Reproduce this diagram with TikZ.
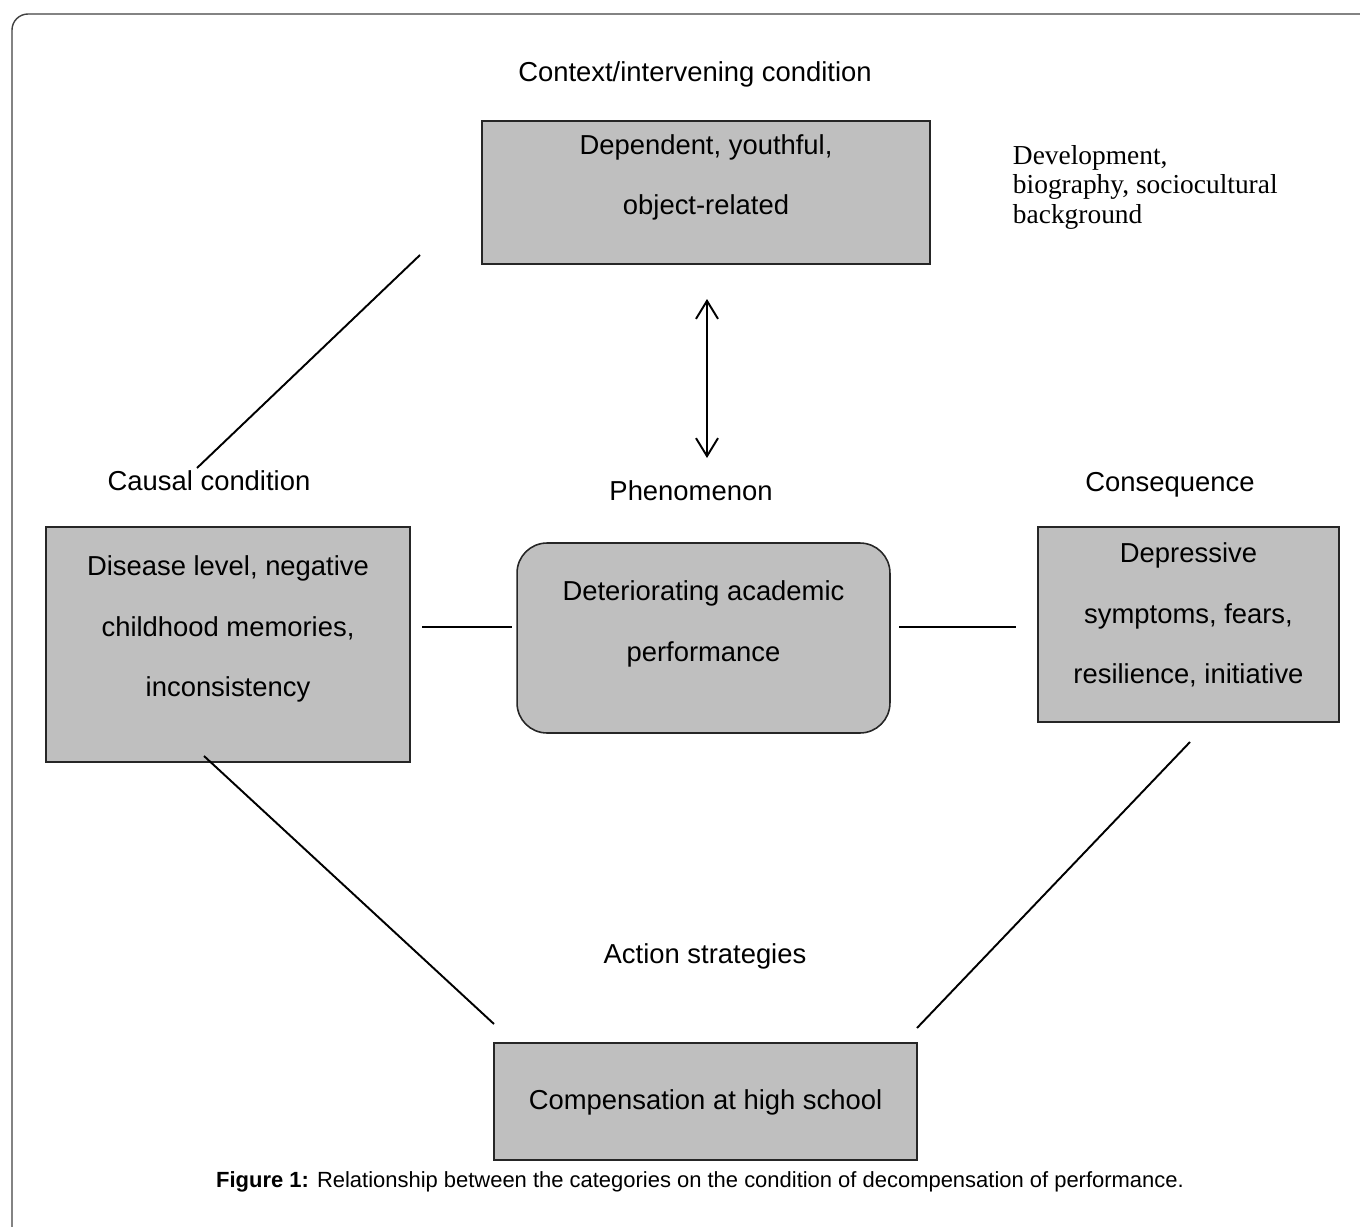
\documentclass[tikz,border=0pt]{standalone}
\usepackage{fontspec}
\setmainfont{Liberation Sans}
\newfontfamily\timesfont{Liberation Serif}
\usetikzlibrary{arrows.meta}
\begin{document}
\begin{tikzpicture}[x = 0.02cm, y = -0.02cm, line width = 1.1pt,
                   box/.style={draw=black!85, fill=black!25, line width=0.9pt, inner sep=0pt},
                   boxtext/.style={align=center, font=\fontsize{15.6}{34.4}\selectfont},
                   heading/.style={font=\fontsize{15.6}{18}\selectfont},
                   link/.style={line width=1.1pt}]
	\useasboundingbox (0,0) rectangle (1360,1227);
	\draw[black!75, line width=0.8pt] (12,1227) -- (12,30) arc (180:270:16) -- (1360,14);
	\begin{scope}[every node/.style={inner sep=0pt}]
	\node[box, minimum width=8.96cm, minimum height=2.86cm] (context) at (706,192.5) {};
	\node[box, minimum width=7.28cm, minimum height=4.7cm] (causal) at (228,644.5) {};
	\node[box, rounded corners=0.6cm, minimum width=7.46cm, minimum height=3.8cm] (phenomenon) at (703.5,638) {};
	\node[box, minimum width=6.02cm, minimum height=3.9cm] (consequence) at (1188.5,624.5) {};
	\node[box, minimum width=8.46cm, minimum height=2.34cm] (action) at (705.5,1101.5) {};
	\node[boxtext] (context text) at (706,177.5) {Dependent, youthful,\\object-related};
	\node[boxtext] (causal text) at (228,629) {Disease level, negative\\childhood memories,\\inconsistency};
	\node[boxtext] (phenomenon text) at (703.5,624) {Deteriorating academic\\performance};
	\node[boxtext] (consequence text) at (1188.5,615) {Depressive\\symptoms, fears,\\resilience, initiative};
	\node[boxtext] (action text) at (705.5,1102) {Compensation at high school};
	\node[heading] (context head) at (695,74) {Context/intervening condition};
	\node[heading] (causal head) at (209,481) {Causal condition};
	\node[heading] (phenomenon head) at (691,491) {Phenomenon};
	\node[heading] (consequence head) at (1170,485) {Consequence};
	\node[heading] (action head) at (705,956) {Action strategies};
	\node[anchor=west, align=left, font=\timesfont\fontsize{15.6}{16.8}\selectfont] (background) at (1012,187)
		{Development,\\biography, sociocultural\\background};
	\node[font=\fontsize{12.5}{15}\selectfont] (caption) at (700,1182)
		{\textbf{Figure 1:} Relationship between the categories on the condition of decompensation of performance.};
	\end{scope}
	\coordinate (ctx a) at (420,255);
	\coordinate (ctx b) at (197,468);
	\coordinate (cau a) at (422,627);
	\coordinate (cau b) at (512,627);
	\coordinate (con a) at (899,627);
	\coordinate (con b) at (1016,627);
	\coordinate (act a) at (204,756);
	\coordinate (act b) at (494,1024);
	\coordinate (act c) at (1190,742);
	\coordinate (act d) at (917,1028);
	\coordinate (arr a) at (707,299);
	\coordinate (arr b) at (707,458);
	\draw[link] (ctx a) -- (ctx b);
	\draw[link] (cau a) -- (cau b);
	\draw[link] (con a) -- (con b);
	\draw[link] (act a) -- (act b);
	\draw[link] (act c) -- (act d);
	\draw[link, {Straight Barb[length=3.6mm,width=4.4mm]}-{Straight Barb[length=3.6mm,width=4.4mm]}] (arr a) -- (arr b);
\end{tikzpicture}
\end{document}
